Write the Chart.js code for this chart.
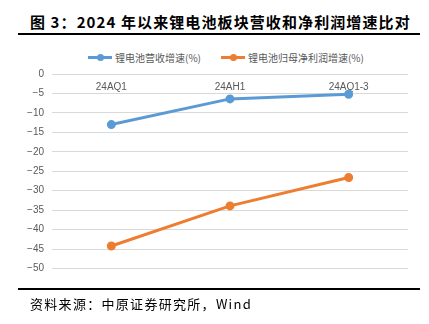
<!DOCTYPE html>
<html>
<head>
<meta charset="utf-8">
<script src="https://cdn.jsdelivr.net/npm/chart.js@4"></script>
<style>
  body { margin: 0; width: 429px; height: 324px; background: #fff; position: relative; overflow: hidden; }
  #titulo { position: absolute; left: 30px; top: 11px; font: bold 15px "Noto Sans CJK SC", sans-serif; color: #000; letter-spacing: 1.1px; white-space: nowrap; }
  .raya { position: absolute; left: 18px; width: 402px; height: 2px; background: #000; }
  #fuente { position: absolute; left: 30px; top: 294px; font: 13px "Noto Sans CJK SC", sans-serif; color: #000; letter-spacing: 1.3px; white-space: nowrap; }
  #leyenda { position: absolute; left: 88px; top: 47px; font: 10px "Noto Sans CJK SC", sans-serif; color: #595959; white-space: nowrap; }
  .item { display: inline-flex; align-items: center; margin-right: 20px; }
  .marca { position: relative; width: 24px; height: 3px; margin-right: 3px; }
  .marca i { position: absolute; left: 9px; top: -2px; width: 7px; height: 7px; border-radius: 50%; }
  #caja { position: absolute; left: 0; top: 60px; width: 429px; height: 242px; }
</style>
</head>
<body>
<div id="titulo">图 3：2024 年以来锂电池板块营收和净利润增速比对</div>
<div class="raya" style="top:33px"></div>
<div id="leyenda"></div>
<div id="caja"><canvas id="grafico"></canvas></div>
<div class="raya" style="top:288px"></div>
<div id="fuente">资料来源：中原证券研究所，Wind</div>
<script>
// datos
const periodos = ['24AQ1', '24AH1', '24AQ1-3'];
const crecimientoIngresos = [-13.0, -6.4, -5.2];
const crecimientoBeneficio = [-44.2, -33.9, -26.6];
const nombresSeries = ['锂电池营收增速(%)', '锂电池归母净利润增速(%)'];
const colores = ['#5B9BD5', '#ED7D31'];

// leyenda en html (línea con punto)
const leyenda = document.getElementById('leyenda');
nombresSeries.forEach((nombre, i) => {
    const item = document.createElement('span');
    item.className = 'item';
    item.innerHTML = '<span class="marca" style="background:' + colores[i] + '"><i style="background:' + colores[i] + '"></i></span>' + nombre;
    leyenda.appendChild(item);
});

const ctx = document.getElementById('grafico').getContext('2d');
new Chart(ctx, {
    type: 'line',
    data: {
        labels: periodos,
        datasets: [crecimientoIngresos, crecimientoBeneficio].map((serie, i) => ({
            label: nombresSeries[i],
            data: serie,
            borderColor: colores[i],
            backgroundColor: colores[i],
            borderWidth: 3,
            pointRadius: 3,
            pointHoverRadius: 3,
            tension: 0
        }))
    },
    options: {
        responsive: true,
        maintainAspectRatio: false,
        animation: false,
        layout: { padding: { left: 0, right: 21, top: 14, bottom: 6 } },
        plugins: { legend: { display: false }, tooltip: { enabled: false } },
        scales: {
            x: {
                position: { y: 0 },
                offset: true,
                afterFit: function (scale) { scale.height = 0; },
                grid: { display: false, drawTicks: false },
                border: { display: false },
                ticks: { color: '#595959', font: { family: 'Liberation Sans', size: 10 }, padding: 7, maxRotation: 0 }
            },
            y: {
                min: -55,
                max: 0,
                afterFit: function (scale) { scale.width = 52; },
                border: { display: false },
                grid: {
                    color: c => (c.tick && c.tick.value === -55) ? 'rgba(0,0,0,0)' : '#d9d9d9',
                    lineWidth: 1,
                    drawTicks: false
                },
                ticks: {
                    stepSize: 5,
                    padding: 8,
                    color: '#595959',
                    font: { family: 'Liberation Sans', size: 10 },
                    callback: v => v === -55 ? '' : String(v).replace('-', '−')
                }
            }
        }
    }
});
</script>
</body>
</html>
